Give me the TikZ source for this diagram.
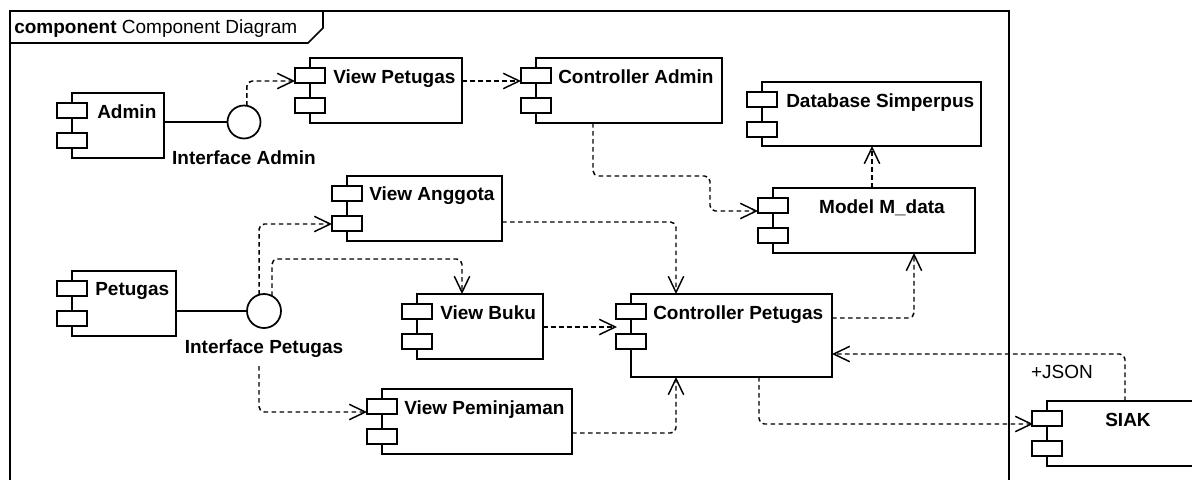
\documentclass[tikz,border=0pt]{standalone}
\usepackage{fontspec}
\setmainfont{Liberation Sans}
\usetikzlibrary{arrows.meta,calc}
\tikzset{
  compbody/.style={draw, line width=1.3pt, fill=white, inner sep=0pt, outer sep=0pt, anchor=north west},
  iconrect/.style={draw, line width=1.3pt, fill=white},
  lbl/.style={font=\bfseries\fontsize{14.25}{17}\selectfont, inner sep=0pt, anchor=base west},
  plain/.style={font=\fontsize{14.25}{17}\selectfont, inner sep=0pt},
  dep/.style={draw, line width=1.1pt, dash pattern=on 3.5pt off 2.5pt, rounded corners=4pt, -{Straight Barb[length=12pt,width=11.5pt]}},
  iface/.style={circle, draw, line width=1.3pt, fill=white, inner sep=0pt, outer sep=0pt},
  assoc/.style={draw, line width=1.1pt},
  framel/.style={draw, line width=1.3pt},
}
\newcommand\umlcomp[5]{%
  \node[compbody, minimum width={(#4-#2)*0.75pt}, minimum height={(#5-#3)*0.75pt}] (#1) at (#2,#3) {};
  \draw[iconrect] ($(#1.north west)+(-15,10)$) rectangle ++(30,15);
  \draw[iconrect] ($(#1.north west)+(-15,40)$) rectangle ++(30,15);
}
\begin{document}
\begin{tikzpicture}[x=0.75pt,y=-0.75pt]
\useasboundingbox (0,0) rectangle (1192,479);
\clip (0,0) rectangle (1192,479);
\fill[white] (0,0) rectangle (1192,479);

% frame
\draw[framel] (10,495) -- (10,11) -- (1009,11) -- (1009,495);
\draw[framel] (10,43) -- (308,43) -- (323,28) -- (323,11);
\node[plain, anchor=base west] (title) at (14,33) {\textbf{component} Component Diagram};

% components
\umlcomp{admin}{72}{93}{164}{158}
\node[lbl] (admin-l) at ($(admin.north west)+(25,25)$) {Admin};
\umlcomp{vp}{310}{58}{462}{123}
\node[lbl] (vp-l) at ($(vp.north west)+(23,25)$) {View Petugas};
\umlcomp{ca}{536}{58}{722}{123}
\node[lbl] (ca-l) at ($(ca.north west)+(22,25)$) {Controller Admin};
\umlcomp{db}{762}{82}{981}{146}
\node[lbl] (db-l) at ($(db.north west)+(24,25)$) {Database Simperpus};
\umlcomp{md}{773}{188}{975}{253}
\node[lbl, anchor=base] (md-l) at (882,213) {Model M\_data};
\umlcomp{va}{347}{176}{502}{241}
\node[lbl] (va-l) at ($(va.north west)+(22,24)$) {View Anggota};
\umlcomp{pet}{72}{271}{176}{336}
\node[lbl] (pet-l) at ($(pet.north west)+(23,24)$) {Petugas};
\umlcomp{vb}{417}{294}{543}{359}
\node[lbl] (vb-l) at ($(vb.north west)+(23,25)$) {View Buku};
\umlcomp{cp}{631}{294}{832}{377}
\node[lbl] (cp-l) at ($(cp.north west)+(22,25)$) {Controller Petugas};
\umlcomp{vpm}{382}{389}{572}{454}
\node[lbl] (vpm-l) at ($(vpm.north west)+(22,25)$) {View Peminjaman};
\umlcomp{siak}{1047}{401}{1215}{466}
\node[lbl, anchor=base] (siak-l) at (1128,426) {SIAK};

% interfaces
\node[iface, minimum size=24.75pt] (ia) at (244,122) {};
\node[lbl, anchor=base] (ia-l) at (244,164) {Interface Admin};
\node[iface, minimum size=25.5pt] (ip) at (264,311) {};
\node[lbl, anchor=base] (ip-l) at (264,353) {Interface Petugas};

% connectors
\draw[assoc] (ia.west -| admin.east) -- (ia.west);
\draw[assoc] (ip.west -| pet.east) -- (ip.west);

\draw[dep] (ia.80) |- ($(vp.north west)+(-15,23)$);
\draw[dep] ($(vp.north east)+(0,23)$) -- ($(ca.north west)+(-15,23)$);
\draw[dep] ($(ca.south west)+(57,0)$) |- ($(md.north west)+(-63,-12)$) |- ($(md.north west)+(-15,23)$);
\draw[dep] ($(md.north west)+(99,0)$) -- ($(db.south west)+(110,0)$);

\draw[dep] (ip.107) |- ($(va.north west)+(-15,48)$);
\draw[dep] (ip.62) |- ($(vb.north west)+(45,-35)$) -- ($(vb.north west)+(45,0)$);
\coordinate (ipdown) at ($(ip.south)+(-5,38)$);
\draw[dep] (ipdown) |- ($(vpm.north west)+(-15,23)$);

\draw[dep] ($(va.north east)+(0,46)$) -| ($(cp.north west)+(45,0)$);
\draw[dep] ($(vb.north east)+(0,33)$) -- ($(cp.north west)+(-14,33)$);
\draw[dep] ($(vpm.north east)+(0,44)$) -| ($(cp.south west)+(45,0)$);
\draw[dep] ($(cp.north east)+(0,24)$) -| ($(md.south west)+(141,0)$);
\draw[dep] ($(siak.north west)+(78,0)$) |- ($(cp.north east)+(0,60)$);
\node[plain] (json) at (1062,372) {+JSON};
\draw[dep] ($(cp.south west)+(128,0)$) |- ($(siak.north west)+(-14,23)$);
\end{tikzpicture}
\end{document}
